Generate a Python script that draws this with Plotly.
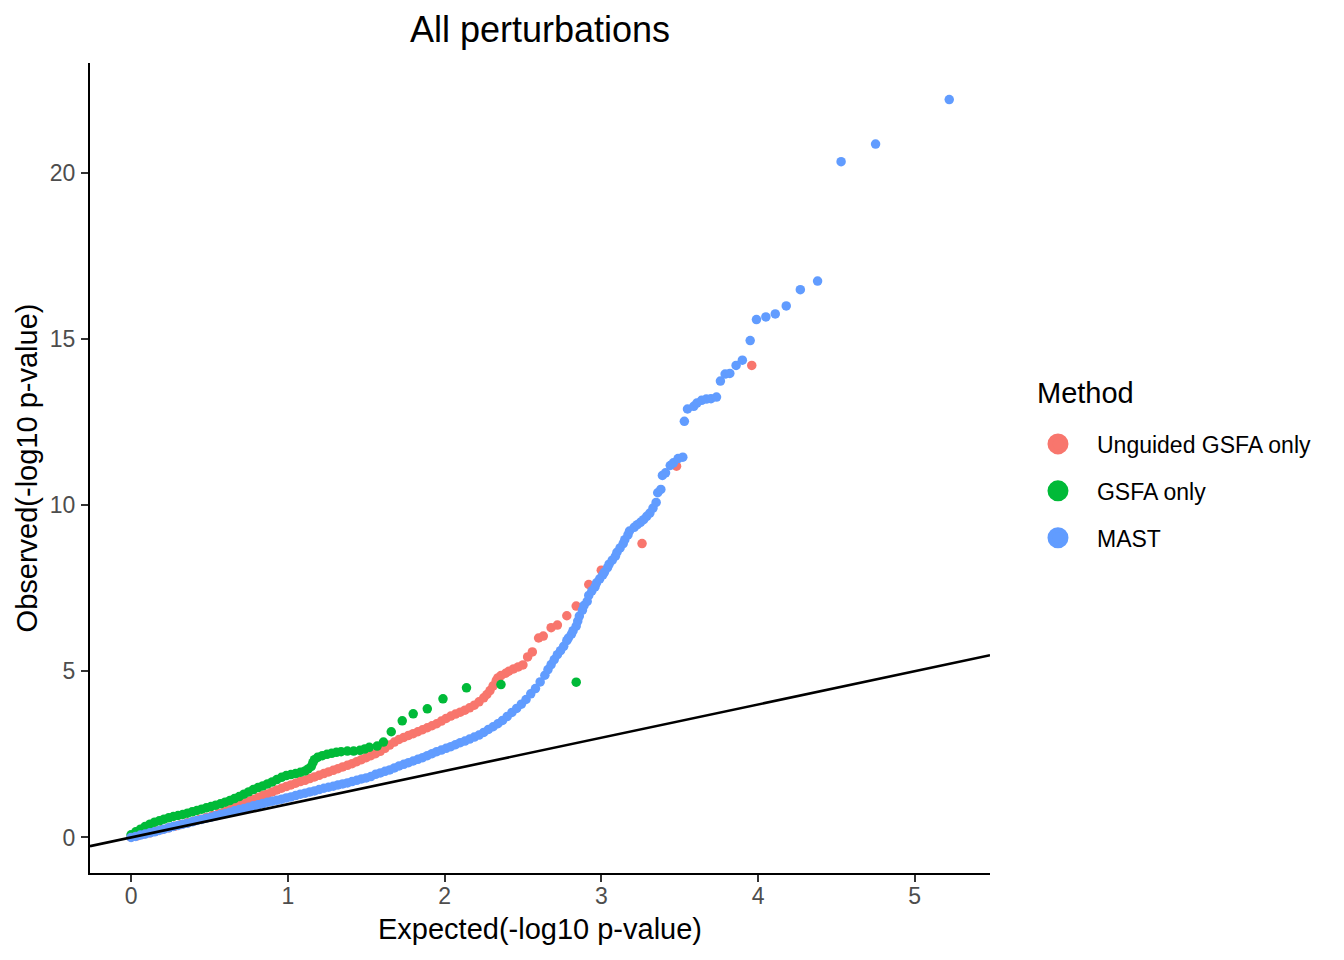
import plotly.graph_objects as go

# QQ plot values (expected vs observed -log10 p)
unguided_x = [0.00, 0.04, 0.08, 0.12, 0.16, 0.20, 0.24, 0.28, 0.32, 0.36, 0.40, 0.44, 0.48,
              0.52, 0.56, 0.60, 0.63, 0.66, 0.69, 0.72, 0.75, 0.78, 0.81, 0.84, 0.87, 0.90,
              0.93, 0.96, 0.99, 1.02, 1.05, 1.08, 1.11, 1.14, 1.17, 1.20, 1.23, 1.26, 1.29,
              1.32, 1.35, 1.38, 1.41, 1.44, 1.47, 1.50, 1.53, 1.56, 1.59, 1.62, 1.65, 1.68,
              1.71, 1.74, 1.77, 1.80, 1.83, 1.86, 1.89, 1.92, 1.95, 1.98, 2.01, 2.04, 2.07,
              2.10, 2.13, 2.16, 2.19, 2.22, 2.25, 2.27, 2.29, 2.31, 2.33, 2.34, 2.36, 2.39,
              2.41, 2.44, 2.47, 2.50, 2.53, 2.56, 2.60, 2.63, 2.68, 2.72, 2.78, 2.84, 2.92,
              3.00, 3.26, 3.48, 3.96]
unguided_y = [0.01, 0.05, 0.10, 0.14, 0.19, 0.24, 0.29, 0.34, 0.39, 0.44, 0.49, 0.55, 0.60,
              0.66, 0.72, 0.79, 0.84, 0.90, 0.96, 1.02, 1.08, 1.14, 1.20, 1.26, 1.31, 1.37,
              1.43, 1.48, 1.53, 1.58, 1.63, 1.68, 1.72, 1.77, 1.82, 1.87, 1.92, 1.97, 2.02,
              2.07, 2.12, 2.17, 2.22, 2.28, 2.34, 2.40, 2.46, 2.52, 2.59, 2.68, 2.78, 2.87,
              2.95, 3.01, 3.07, 3.12, 3.18, 3.24, 3.30, 3.36, 3.42, 3.50, 3.58, 3.65, 3.71,
              3.77, 3.83, 3.90, 3.98, 4.08, 4.20, 4.30, 4.42, 4.56, 4.72, 4.80, 4.87, 4.94,
              5.00, 5.07, 5.13, 5.19, 5.43, 5.58, 6.00, 6.06, 6.31, 6.39, 6.67, 6.96, 7.61,
              8.04, 8.84, 11.17, 14.20]

gsfa_x = [0.00, 0.03, 0.06, 0.09, 0.12, 0.15, 0.18, 0.21, 0.24, 0.27, 0.30, 0.33, 0.36,
          0.39, 0.42, 0.45, 0.48, 0.51, 0.54, 0.57, 0.60, 0.63, 0.66, 0.69, 0.72, 0.75,
          0.78, 0.81, 0.84, 0.87, 0.90, 0.93, 0.96, 0.99, 1.02, 1.05, 1.08, 1.11, 1.13,
          1.15, 1.16, 1.17, 1.19, 1.22, 1.25, 1.28, 1.31, 1.34, 1.38, 1.42, 1.46, 1.49,
          1.52, 1.57, 1.61, 1.66, 1.73, 1.80, 1.89, 1.99, 2.14, 2.36, 2.84]
gsfa_y = [0.08, 0.17, 0.25, 0.33, 0.40, 0.46, 0.50, 0.55, 0.59, 0.63, 0.66, 0.69, 0.73,
          0.77, 0.81, 0.85, 0.89, 0.93, 0.97, 1.01, 1.06, 1.11, 1.17, 1.23, 1.30, 1.37,
          1.44, 1.50, 1.55, 1.61, 1.67, 1.74, 1.81, 1.86, 1.89, 1.92, 1.96, 2.00, 2.06,
          2.14, 2.25, 2.34, 2.41, 2.46, 2.50, 2.53, 2.56, 2.58, 2.60, 2.60, 2.62, 2.66,
          2.71, 2.75, 2.87, 3.18, 3.51, 3.72, 3.87, 4.17, 4.50, 4.60, 4.67]

mast_x = [0.00, 0.03, 0.06, 0.09, 0.12, 0.15, 0.18, 0.21, 0.24, 0.27, 0.30, 0.33, 0.36,
          0.39, 0.42, 0.45, 0.48, 0.51, 0.54, 0.57, 0.60, 0.63, 0.66, 0.69, 0.72, 0.75,
          0.78, 0.81, 0.84, 0.87, 0.90, 0.93, 0.96, 0.99, 1.02, 1.05, 1.08, 1.11, 1.14,
          1.17, 1.20, 1.23, 1.26, 1.29, 1.32, 1.35, 1.38, 1.41, 1.44, 1.47, 1.50, 1.53,
          1.56, 1.59, 1.62, 1.65, 1.68, 1.71, 1.74, 1.77, 1.80, 1.83, 1.86, 1.89, 1.92,
          1.95, 1.98, 2.01, 2.04, 2.07, 2.10, 2.13, 2.16, 2.19, 2.22, 2.25, 2.28, 2.31,
          2.34, 2.37, 2.40, 2.43, 2.46, 2.49, 2.52, 2.55, 2.58, 2.61, 2.64, 2.66, 2.68,
          2.70, 2.72, 2.74, 2.76, 2.78, 2.79, 2.81, 2.82, 2.84, 2.85, 2.86, 2.88, 2.89,
          2.91, 2.92, 2.94, 2.96, 2.97, 2.99, 3.01, 3.02, 3.04, 3.05, 3.07, 3.09, 3.10,
          3.12, 3.14, 3.15, 3.17, 3.18, 3.21, 3.23, 3.25, 3.27, 3.29, 3.31, 3.33, 3.35,
          3.36, 3.38, 3.39, 3.41, 3.44, 3.46, 3.49, 3.52, 3.53, 3.55, 3.59, 3.61, 3.64,
          3.67, 3.70, 3.735, 3.76, 3.79, 3.82, 3.86, 3.90, 3.95, 3.99, 4.05, 4.11, 4.18,
          4.27, 4.38, 4.53, 4.75, 5.22]
mast_y = [0.00, 0.03, 0.07, 0.10, 0.14, 0.17, 0.21, 0.25, 0.29, 0.33, 0.36, 0.40, 0.43,
          0.47, 0.51, 0.54, 0.58, 0.61, 0.65, 0.69, 0.72, 0.76, 0.80, 0.84, 0.87, 0.91,
          0.95, 0.98, 1.02, 1.06, 1.09, 1.12, 1.15, 1.19, 1.22, 1.26, 1.30, 1.33, 1.37,
          1.40, 1.44, 1.48, 1.51, 1.54, 1.58, 1.61, 1.64, 1.68, 1.72, 1.76, 1.79, 1.83,
          1.90, 1.94, 1.99, 2.03, 2.09, 2.15, 2.20, 2.25, 2.30, 2.35, 2.40, 2.46, 2.52,
          2.58, 2.63, 2.68, 2.73, 2.79, 2.85, 2.90, 2.96, 3.02, 3.08, 3.16, 3.25, 3.33,
          3.42, 3.52, 3.64, 3.76, 3.88, 4.01, 4.15, 4.32, 4.48, 4.68, 4.88, 5.05, 5.20,
          5.35, 5.50, 5.62, 5.75, 5.92, 6.00, 6.12, 6.22, 6.36, 6.51, 6.66, 6.84, 6.98,
          7.10, 7.28, 7.42, 7.54, 7.66, 7.78, 7.90, 7.98, 8.12, 8.22, 8.34, 8.46, 8.58,
          8.71, 8.84, 8.96, 9.10, 9.22, 9.33, 9.41, 9.48, 9.56, 9.66, 9.76, 9.91, 10.08,
          10.37, 10.47, 10.89, 10.97, 11.19, 11.27, 11.40, 11.44, 12.52, 12.89, 12.97, 13.07, 13.15,
          13.19, 13.20, 13.25, 13.73, 13.94, 13.96, 14.20, 14.36, 14.95, 15.58, 15.66, 15.75, 15.99,
          16.48, 16.74, 20.33, 20.86, 22.2]

methods = ["Unguided GSFA only", "GSFA only", "MAST"]
colors = ["#F8766D", "#00BA38", "#619CFF"]
abline_intercept = 0
abline_slope = 1

x_range = [-0.262, 5.48]
y_range = [-1.07, 23.3]

fig = go.Figure()

series = [(unguided_x, unguided_y), (gsfa_x, gsfa_y), (mast_x, mast_y)]
for name, col, (xs, ys) in zip(methods, colors, series):
    fig.add_trace(go.Scatter(
        x=xs, y=ys, mode="markers", name=name, legendgroup=name,
        showlegend=False, marker=dict(color=col, size=9.5, line=dict(width=0))
    ))

# bigger keys for the legend, like ggplot's override.aes
for name, col in zip(methods, colors):
    fig.add_trace(go.Scatter(
        x=[None], y=[None], mode="markers", name=name, legendgroup=name,
        marker=dict(color=col, size=20, line=dict(color=col, width=5))
    ))

fig.add_shape(
    type="line", xref="x", yref="y",
    x0=x_range[0], y0=abline_intercept + abline_slope * x_range[0],
    x1=x_range[1], y1=abline_intercept + abline_slope * x_range[1],
    line=dict(color="black", width=2.6)
)

axis_common = dict(
    showgrid=False, zeroline=False, showline=True, linecolor="black", linewidth=2.2,
    ticks="outside", ticklen=7, tickwidth=2.2, tickcolor="#333333",
    tickfont=dict(size=23, color="#4D4D4D"),
)

fig.update_xaxes(
    range=x_range, tickvals=[0, 1, 2, 3, 4, 5],
    title=dict(text="Expected(-log10 p-value)", font=dict(size=29, color="black"), standoff=11),
    ticklabelstandoff=-6,
    **axis_common
)
fig.update_yaxes(
    range=y_range, tickvals=[0, 5, 10, 15, 20],
    title=dict(text="Observed(-log10 p-value)", font=dict(size=29, color="black"), standoff=4),
    ticklabelstandoff=1,
    **axis_common
)

# legend title
fig.add_annotation(
    text="Method", xref="paper", yref="paper", x=1.05, y=0.5926,
    xanchor="left", yanchor="middle", showarrow=False,
    font=dict(size=29, color="black")
)

fig.update_layout(
    width=1344, height=960,
    margin=dict(l=90, r=354, t=63, b=87),
    paper_bgcolor="white", plot_bgcolor="white",
    font=dict(family="Liberation Sans, Arial, sans-serif", color="black"),
    title=dict(text="All perturbations", x=0.5, xref="paper", xanchor="center",
               y=1 - 29 / 960, yref="container", yanchor="middle",
               font=dict(size=36, color="black")),
    legend=dict(
        font=dict(size=23), x=1.0322, y=0.5562, xanchor="left", yanchor="top",
        tracegroupgap=14, itemsizing="trace", itemwidth=68, bgcolor="rgba(0,0,0,0)"
    ),
)

fig.write_html("out.html", config={"displayModeBar": False},
               post_script="document.body.style.margin='0';")
